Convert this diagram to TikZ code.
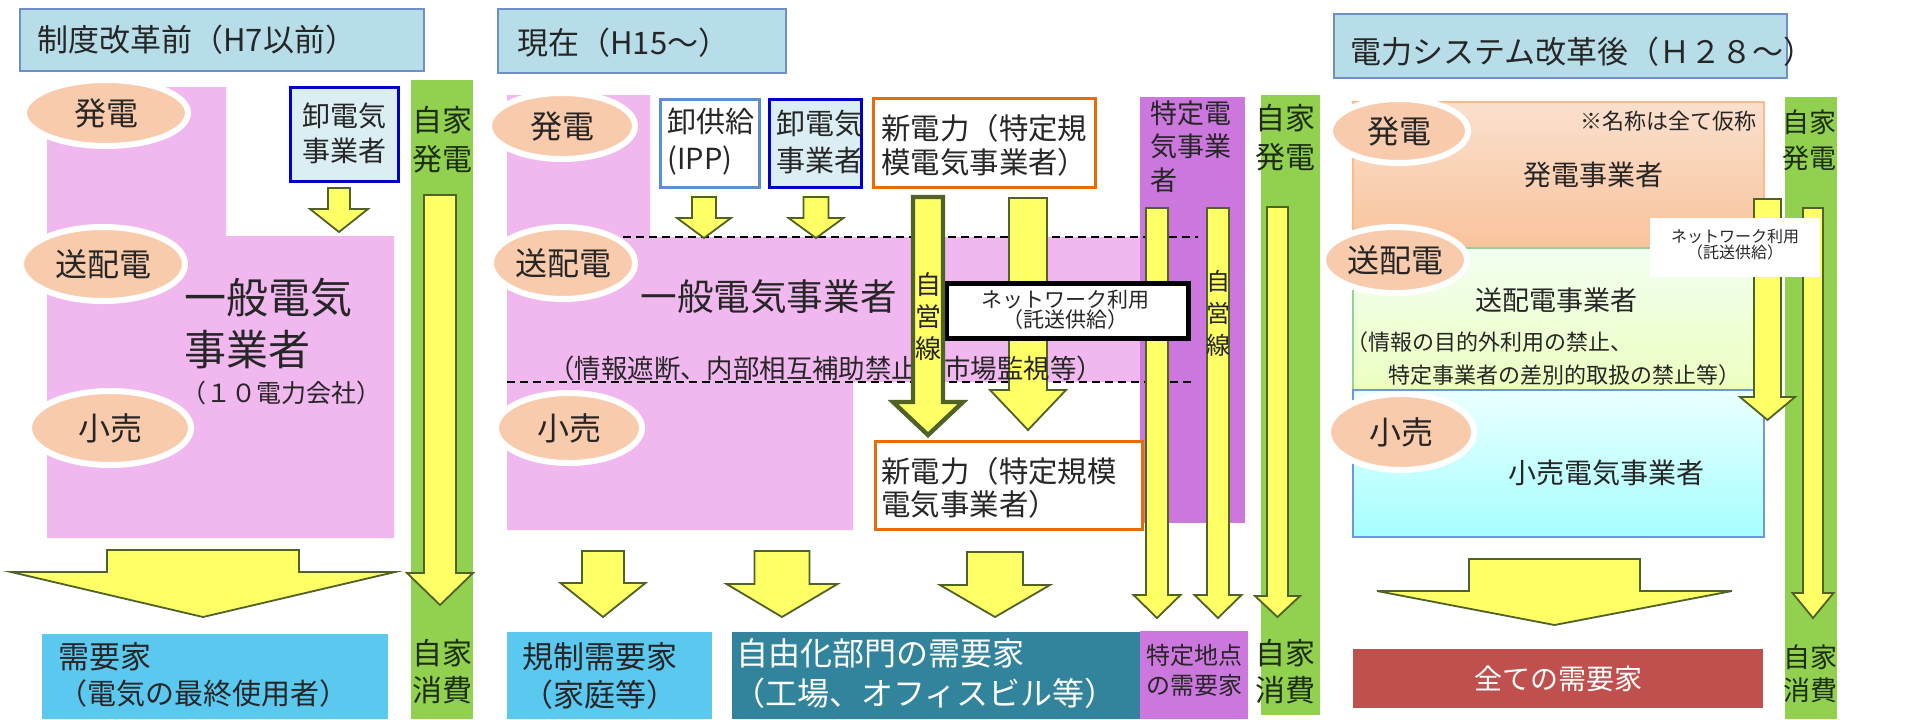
\documentclass[tikz,border=0pt]{standalone}
\usepackage{fontspec}
\setmainfont{Noto Sans CJK JP}
\usetikzlibrary{shapes.geometric}
\definecolor{tx}{HTML}{262626}
\definecolor{titlefill}{HTML}{B7DDE8}
\definecolor{titleline}{HTML}{6F8FC8}
\definecolor{pinkbg}{HTML}{F0B8EE}
\definecolor{peach}{HTML}{F8CBAD}
\definecolor{yel}{HTML}{FFFF66}
\definecolor{arrowline}{HTML}{4F6228}
\definecolor{greencol}{HTML}{92D050}
\definecolor{greentx}{HTML}{1E2E14}
\definecolor{violet2}{HTML}{CC77DD}
\definecolor{skyb}{HTML}{5BC8F0}
\definecolor{tealb}{HTML}{31849B}
\definecolor{redb}{HTML}{C0504D}
\definecolor{orangeb}{HTML}{E46C0A}
\definecolor{darkblue}{HTML}{0000CC}
\definecolor{ippblue}{HTML}{5B8FD0}
\definecolor{lightbluebox}{HTML}{DAEEF3}
\newcommand\fsz[2]{\fontsize{#1}{#2}\selectfont}
\newcommand\barrow[7][]{\draw[yarrow,#1] ({#2-#4},#3) -- ({#2+#4},#3) -- ({#2+#4},#6) -- ({#2+#5},#6) -- (#2,#7) -- ({#2-#5},#6) -- ({#2-#4},#6) -- cycle;}
\tikzset{
  txt/.style={inner sep=0pt, text=tx},
  tbox/.style={fill=titlefill, draw=titleline, line width=0.8pt},
  ell/.style={ellipse, fill=peach, draw=white, line width=3pt, inner sep=0pt, text=tx, font=\fsz{16}{19}},
  yarrow/.style={fill=yel, draw=arrowline, line width=0.9pt, line join=miter},
  gtxt/.style={inner sep=0pt, text=greentx, align=center},
  dash2/.style={dash pattern=on 4pt off 2.5pt, line width=1.1pt, black},
}
\begin{document}
\begin{tikzpicture}[x=0.5pt,y=-0.5pt]
\useasboundingbox (0,0) rectangle (1928,719);
\fill[white] (0,0) rectangle (1928,719);
% ================= Panel 1 =================
\draw[tbox] (20,9) rectangle (424,71);
\node[txt,anchor=west,font=\fsz{15.5}{18}] (t1) at (37,40) {制度改革前（H7以前）};
\fill[pinkbg] (47,87) -- (226,87) -- (226,236) -- (394,236) -- (394,538) -- (47,538) -- cycle;
\node[ell,minimum width=82pt,minimum height=33pt] (e1a) at (106,113) {発電};
\node[ell,minimum width=82pt,minimum height=37pt] (e1b) at (103,264) {送配電};
\node[ell,minimum width=81pt,minimum height=37pt] (e1c) at (110,428) {小売};
\draw[fill=lightbluebox, draw=darkblue, line width=1.5pt] (290,87) rectangle (398,181);
\node[txt,align=left,font=\fsz{14}{17.5}] (w1) at (344,133) {卸電気\\事業者};
\barrow{339}{188}{11}{29}{209}{232}
\node[txt,anchor=west,font=\fsz{21}{24}] (g1a) at (184,298) {一般電気};
\node[txt,anchor=west,font=\fsz{21}{24}] (g1b) at (184,350) {事業者};
\node[txt,anchor=west,font=\fsz{12.5}{15}] (g1c) at (181,393) {（１０電力会社）};
\fill[greencol] (411,80) rectangle (473,719);
\node[gtxt,font=\fsz{15}{19.5}] (s1t) at (442,140) {自家\\発電};
\barrow{440}{195}{16}{33}{573}{605}
\node[gtxt,font=\fsz{15}{18.5}] (s1b) at (442,672) {自家\\消費};
\barrow{203}{550}{96}{192}{572}{617}
\fill[skyb] (42,634) rectangle (388,719);
\node[txt,anchor=west,font=\fsz{15.5}{18}] (d1a) at (58,657) {需要家};
\node[txt,anchor=west,font=\fsz{14.5}{18}] (d1b) at (58,693) {（電気の最終使用者）};
% ================= Panel 2 =================
\draw[tbox] (498,9) rectangle (786,73);
\node[txt,anchor=west,font=\fsz{15.5}{18}] (t2) at (517,43) {現在（H15～）};
\fill[pinkbg] (507,95) -- (650,95) -- (650,237) -- (1140,237) -- (1140,382) -- (853,382) -- (853,530) -- (507,530) -- cycle;
\fill[violet2] (1140,97) rectangle (1245,523);
\fill[greencol] (1261,95) rectangle (1320,715);
\draw[dash2] (623,237) -- (1198,237);
\draw[dash2] (507,382) -- (1193,382);
\node[ell,minimum width=73pt,minimum height=33pt] (e2a) at (562,126) {発電};
\node[ell,minimum width=72pt,minimum height=36pt] (e2b) at (563,263) {送配電};
\node[ell,minimum width=73pt,minimum height=35pt] (e2c) at (569,428) {小売};
\node[txt,anchor=west,font=\fsz{18.3}{22}] (g2a) at (640,297) {一般電気事業者};
\draw[fill=white, draw=ippblue, line width=1.5pt] (660,99) rectangle (759,187);
\node[txt,anchor=west,align=left,font=\fsz{14.5}{18.5}] (ipp) at (667,142) {卸供給\\(IPP)};
\draw[fill=lightbluebox, draw=darkblue, line width=1.5pt] (769,99) rectangle (861,187);
\node[txt,anchor=west,align=left,font=\fsz{14.5}{18.5}] (w2) at (776,142) {卸電気\\事業者};
\draw[fill=white, draw=orangeb, line width=1.5pt] (873,98) rectangle (1095,187);
\node[txt,anchor=west,align=left,font=\fsz{14.7}{17}] (n2a) at (881,145) {新電力（特定規\\模電気事業者）};
\draw[fill=white, draw=orangeb, line width=1.5pt] (875,441) rectangle (1142,529);
\node[txt,anchor=west,align=left,font=\fsz{14.7}{16.5}] (n2b) at (881,488) {新電力（特定規模\\電気事業者）};
\node[txt,anchor=north west,align=left,font=\fsz{13.5}{16.8}] (tk) at (1150,100) {特定電\\気事業\\者};
\node[gtxt,font=\fsz{15}{19.5}] (s2t) at (1285,138) {自家\\発電};
\barrow{704}{197}{12}{27}{218}{238}
\barrow{816}{197}{12.5}{27.5}{218}{238}
\barrow{1028}{198}{19}{38}{390}{430}
\barrow{1157}{208}{11}{23.5}{595}{618}
\barrow{1218}{208}{11}{23.5}{595}{618}
\barrow{1277.5}{207}{10.5}{22.5}{596}{617}
\node[txt,anchor=west,font=\fsz{13.2}{16}] (g2b) at (548,368) {（情報遮断、内部相互補助禁止、市場監視等）};
\draw[fill=white, draw=black, line width=2.5pt] (946,283) rectangle (1188,338);
\node[txt,align=center,font=\fsz{10.5}{10}] (nw2) at (1065,310) {ネットワーク利用\\（託送供給）};
\barrow[line width=2.2pt]{928}{197}{15}{35}{402}{435}
\node[txt,align=center,font=\fsz{13}{16}] (jy1) at (928,317) {自\\営\\線};
\node[txt,align=center,font=\fsz{12}{16}] (jy2) at (1218,313) {自\\営\\線};
\node[gtxt,font=\fsz{15}{18.5}] (s2b) at (1285,672) {自家\\消費};
\barrow{603}{551}{21}{42.5}{583}{617}
\barrow{782}{551}{27.5}{55.5}{584}{617}
\barrow{995}{552}{28}{55}{585}{617}
\fill[skyb] (507,632) rectangle (712,719);
\node[txt,anchor=west,font=\fsz{15.5}{18}] (k2a) at (522,657) {規制需要家};
\node[txt,anchor=west,font=\fsz{15.5}{18}] (k2b) at (522,695) {（家庭等）};
\fill[tealb] (732,632) rectangle (1140,719);
\node[inner sep=0pt,text=white,anchor=west,font=\fsz{16}{19}] (j2a) at (736,653) {自由化部門の需要家};
\node[inner sep=0pt,text=white,anchor=west,font=\fsz{16}{19}] (j2b) at (733,693) {（工場、オフィスビル等）};
\fill[violet2] (1140,631) rectangle (1248,719);
\node[txt,anchor=west,align=left,font=\fsz{12}{15}] (tc2) at (1146,670) {特定地点\\の需要家};
% ================= Panel 3 =================
\draw[tbox] (1334,14) rectangle (1787,78);
\node[txt,anchor=west,font=\fsz{15.5}{18}] (t3) at (1350,52) {電力システム改革後（Ｈ２８～）};
\shade[top color=peach!60, bottom color=peach!90!orange] (1353,102) rectangle (1764,248);
\draw[peach!80!orange, line width=0.6pt] (1353,102) rectangle (1764,248);
\shade[top color=green!5!white, bottom color=green!30!yellow!25!white] (1353,248) rectangle (1760,390);
\draw[green!40!gray!60, line width=0.6pt] (1353,248) rectangle (1760,390);
\shade[top color=cyan!8!white, bottom color=cyan!35!white] (1353,390) rectangle (1764,537);
\draw[cyan!50!blue!60, line width=0.6pt] (1353,390) rectangle (1764,537);
\node[txt,font=\fsz{11}{13}] (note3) at (1668,121) {※名称は全て仮称};
\node[txt,font=\fsz{14}{17}] (gen3) at (1593,175) {発電事業者};
\node[txt,font=\fsz{13.5}{16}] (tr3) at (1556,300) {送配電事業者};
\node[txt,anchor=west,font=\fsz{11}{13}] (tr3b) at (1346,342) {（情報の目的外利用の禁止、};
\node[txt,anchor=west,font=\fsz{11}{13}] (tr3c) at (1388,375) {特定事業者の差別的取扱の禁止等）};
\node[txt,font=\fsz{14}{17}] (rt3) at (1606,473) {小売電気事業者};
\node[ell,minimum width=69pt,minimum height=32pt] (e3a) at (1399,131) {発電};
\node[ell,minimum width=72pt,minimum height=33pt] (e3b) at (1395,260) {送配電};
\node[ell,minimum width=73pt,minimum height=38pt] (e3c) at (1401,432) {小売};
\fill[greencol] (1785,97) rectangle (1837,719);
\node[gtxt,font=\fsz{13.5}{18}] (s3t) at (1809,140) {自家\\発電};
\barrow{1767.5}{199}{13.5}{27.5}{397}{420}
\barrow{1813}{208}{10}{20.5}{593}{618}
\fill[white] (1650,218) rectangle (1820,277);
\node[txt,align=center,font=\fsz{8}{8}] (nw3) at (1735,245) {ネットワーク利用\\（託送供給）};
\node[gtxt,font=\fsz{13.5}{16.5}] (s3b) at (1810,674) {自家\\消費};
\barrow{1554.5}{559}{85.5}{177.5}{591}{625}
\fill[redb] (1353,649) rectangle (1763,708);
\node[inner sep=0pt,text=white,font=\fsz{14}{17}] (all3) at (1558,679) {全ての需要家};
\end{tikzpicture}
\end{document}
